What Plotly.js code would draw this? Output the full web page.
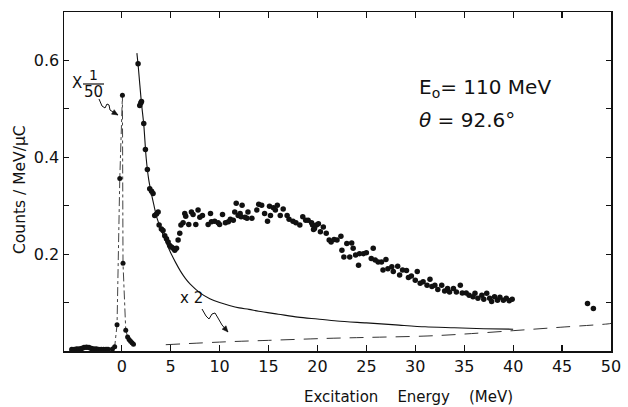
<!DOCTYPE html>
<html>
<head>
<meta charset="utf-8">
<script src="https://cdn.plot.ly/plotly-3.0.1.min.js"></script>
<style>html,body{margin:0;padding:0;background:#fff;}#chart{width:628px;height:407px;}</style>
</head>
<body>
<div id="chart"></div>
<script>
// ---- data ----
const footE = [-5.1, -4.85, -4.6, -4.35, -4.1, -3.85, -3.6, -3.35, -3.1, -2.85, -2.6, -2.35, -2.1, -1.85, -1.6, -1.4];
const footV = [0.003, 0.003, 0.004, 0.004, 0.005, 0.007, 0.008, 0.007, 0.005, 0.004, 0.004, 0.003, 0.003, 0.003, 0.003, 0.003];

const peakE = [-0.95, -0.72, -0.48, -0.2, 0.07, 0.13, 0.41, 0.6, 0.75, 0.9, 1.05, 1.2];
const peakV = [0.004, 0.009, 0.054, 0.356, 0.528, 0.181, 0.043, 0.029, 0.024, 0.02, 0.017, 0.014];

const mainE = [1.67, 1.84, 1.95, 2.02, 2.25, 2.42, 2.62, 2.86, 3.05, 3.2, 3.37, 3.55, 3.72, 3.82, 4.05, 4.22, 4.4, 4.57, 4.74, 4.9,
  5.08, 5.25, 5.42, 5.6, 5.76, 5.93, 6.05, 6.27, 6.44, 6.54, 6.85, 7.12, 7.29, 7.57, 7.8, 7.98, 8.25, 8.83, 9.07, 9.17,
  9.5, 9.85, 10.0, 10.3, 10.6, 10.9, 11.1, 11.4, 11.55, 11.7, 11.9, 12.1, 12.2, 12.3, 12.6, 12.8, 12.9, 13.3, 13.8, 14.0,
  14.3, 14.6, 14.9, 15.1, 15.2, 15.5, 15.7, 15.9, 16.2, 16.5, 16.9, 17.1, 17.5, 17.8, 18.2, 18.5, 18.8, 19.05, 19.4, 19.5,
  19.6, 19.7, 19.9, 20.1, 20.3, 20.6, 20.9, 21.2, 21.4, 21.7, 22.0, 22.4, 22.5, 22.7, 23.0, 23.3, 23.5, 23.65, 23.9, 24.2,
  24.3, 24.7, 25.0, 25.5, 25.7, 25.9, 26.2, 26.55, 26.7, 27.0, 27.2, 27.6, 27.75, 28.2, 28.4, 28.7, 29.1, 29.3, 29.6, 30.0,
  30.2, 30.5, 30.8, 31.2, 31.5, 31.7, 32.0, 32.3, 32.7, 33.0, 33.3, 33.5, 33.9, 34.2, 34.6, 34.8, 35.2, 35.5, 35.9, 36.1,
  36.4, 36.8, 37.0, 37.3, 37.6, 37.8, 38.1, 38.4, 38.65, 39.0, 39.3, 39.6, 39.9, 47.6, 48.2];
const mainV = [0.593, 0.507, 0.512, 0.515, 0.470, 0.416, 0.375, 0.335, 0.330, 0.325, 0.280, 0.283, 0.287, 0.260, 0.252, 0.249, 0.238, 0.232, 0.225, 0.218,
  0.215, 0.212, 0.208, 0.212, 0.229, 0.243, 0.260, 0.265, 0.284, 0.278, 0.261, 0.287, 0.282, 0.261, 0.291, 0.276, 0.280, 0.261, 0.284, 0.267,
  0.268, 0.265, 0.261, 0.282, 0.265, 0.267, 0.272, 0.270, 0.287, 0.305, 0.280, 0.284, 0.277, 0.301, 0.276, 0.274, 0.287, 0.274, 0.291, 0.303,
  0.301, 0.284, 0.268, 0.299, 0.280, 0.296, 0.291, 0.301, 0.280, 0.293, 0.280, 0.272, 0.268, 0.265, 0.260, 0.277, 0.270, 0.270, 0.265, 0.260,
  0.251, 0.253, 0.260, 0.263, 0.246, 0.256, 0.243, 0.229, 0.225, 0.230, 0.229, 0.237, 0.208, 0.194, 0.222, 0.194, 0.223, 0.212, 0.198, 0.177,
  0.201, 0.201, 0.203, 0.191, 0.212, 0.188, 0.184, 0.184, 0.167, 0.189, 0.170, 0.174, 0.164, 0.175, 0.157, 0.167, 0.166, 0.152, 0.155, 0.146,
  0.164, 0.140, 0.143, 0.136, 0.148, 0.133, 0.136, 0.127, 0.136, 0.124, 0.129, 0.122, 0.129, 0.122, 0.136, 0.120, 0.120, 0.115, 0.112, 0.119,
  0.109, 0.115, 0.107, 0.119, 0.109, 0.102, 0.112, 0.105, 0.111, 0.105, 0.109, 0.104, 0.107, 0.098, 0.088];

const tailE = [1.55, 1.7, 2.0, 2.25, 2.5, 2.75, 3.0, 3.3, 3.6, 4.0, 4.5, 5.0, 5.5, 6.0, 6.5, 7.0, 8.0, 9.0, 10.0, 11.0,
  12.0, 13.0, 14.0, 16.0, 18.0, 20.0, 22.0, 25.0, 28.0, 31.0, 34.0, 37.0, 40.0];
const tailV = [0.615, 0.585, 0.515, 0.468, 0.398, 0.355, 0.328, 0.300, 0.275, 0.252, 0.226, 0.203, 0.183, 0.165, 0.150, 0.138, 0.120, 0.108, 0.100, 0.094,
  0.089, 0.086, 0.082, 0.076, 0.070, 0.066, 0.062, 0.058, 0.054, 0.050, 0.048, 0.046, 0.045];

const dashE = [4.5, 10.7, 15.0, 20.9, 25.0, 31.2, 35.0, 40.0, 44.8, 49.7, 50.0];
const dashV = [0.013, 0.019, 0.022, 0.026, 0.028, 0.031, 0.035, 0.042, 0.049, 0.056, 0.057];

const xTicks = [0, 5, 10, 15, 20, 25, 30, 35, 40, 45, 50];
const xTickText = ['0', '5', '10', '15', '20', '25', '30', '35', '40', '45', '50'];
const yTicks = [0.2, 0.4, 0.6];
const yTickText = ['0.2', '0.4', '0.6'];

// ---- layout helpers for decorations ----
const M = {l: 64, r: 17, t: 12, b: 56};
const XR = [-5.9, 50], YR = [0, 0.7];
const W = 628, H = 407;
const pw = W - M.l - M.r, ph = H - M.t - M.b;
function dx(px) { return XR[0] + (px - M.l) / pw * (XR[1] - XR[0]); }
function dy(py) { return YR[0] + (M.t + ph - py) / ph * (YR[1] - YR[0]); }
function pathFrom(pts, close) {
  return pts.map((p, i) => (i ? 'L' : 'M') + dx(p[0]).toFixed(3) + ',' + dy(p[1]).toFixed(4)).join(' ') + (close ? ' Z' : '');
}
function head(tip, from) {
  const vx = tip[0] - from[0], vy = tip[1] - from[1];
  const n = Math.hypot(vx, vy), ux = vx / n, uy = vy / n;
  const bx = tip[0] - 6 * ux, by = tip[1] - 6 * uy;
  return pathFrom([tip, [bx - 2.6 * uy, by + 2.6 * ux], [bx + 2.6 * uy, by - 2.6 * ux]], true);
}

const FONT = 'DejaVu Sans, sans-serif';
const ink = '#111';

const traces = [
  {x: tailE, y: tailV, mode: 'lines', line: {color: ink, width: 1.1, shape: 'spline', smoothing: 0.8}, hoverinfo: 'skip'},
  {x: dashE, y: dashV, mode: 'lines', line: {color: '#333', width: 1, dash: '14px,9px', shape: 'spline'}, hoverinfo: 'skip'},
  {x: peakE, y: peakV, mode: 'lines+markers', line: {color: '#444', width: 1, dash: 'dashdot'},
   marker: {color: ink, size: 5}},
  {x: footE, y: footV, mode: 'markers', marker: {color: ink, size: 5.5}},
  {x: mainE, y: mainV, mode: 'markers', marker: {color: ink, size: 5.5}}
];

const axisCommon = {
  showgrid: false, zeroline: false, showline: true, linecolor: ink, linewidth: 1.5,
  ticks: 'inside', mirror: 'ticks', tickcolor: ink, tickwidth: 1.2,
  tickfont: {family: FONT, size: 16, color: ink}
};

const sq1 = [[99, 99], [102, 106], [105, 108], [107, 104], [109, 105], [110, 110], [113, 112], [118, 115]];
const sq2 = [[202, 309], [206, 316], [209, 319], [212, 314], [215, 313], [218, 318], [222, 325], [228, 332]];

const layout = {
  width: W, height: H,
  margin: M,
  paper_bgcolor: '#fff', plot_bgcolor: '#fff',
  showlegend: false,
  xaxis: Object.assign({}, axisCommon, {range: XR, tickmode: 'array', tickvals: xTicks, ticktext: xTickText, ticklen: 6}),
  yaxis: Object.assign({}, axisCommon, {range: YR, tickmode: 'array', tickvals: yTicks, ticktext: yTickText, ticklen: 5,
    minor: {tick0: 0, dtick: 0.1, ticks: 'inside', ticklen: 5, tickwidth: 1.2, tickcolor: ink, showgrid: false}}),
  annotations: [
    {xref: 'paper', yref: 'paper', x: (408 - M.l) / pw, y: (M.t + ph - 397) / ph, xanchor: 'center', yanchor: 'middle',
     text: 'Excitation\u00a0\u00a0\u00a0\u00a0Energy\u00a0\u00a0\u00a0\u00a0(MeV)', showarrow: false, font: {family: FONT, size: 15, color: ink}},
    {xref: 'paper', yref: 'paper', x: (20 - M.l) / pw, y: (M.t + ph - 190) / ph, xanchor: 'center', yanchor: 'middle', textangle: -90,
     text: 'Counts / MeV/\u03bcC', showarrow: false, font: {family: FONT, size: 15.5, color: ink}},
    {x: dx(417), y: dy(88), xanchor: 'left', yanchor: 'middle', showarrow: false,
     text: 'E<sub>o</sub>= 110 MeV', font: {family: FONT, size: 20, color: ink}},
    {x: dx(417), y: dy(120), xanchor: 'left', yanchor: 'middle', showarrow: false,
     text: '<i>\u03b8</i> = 92.6\u00b0', font: {family: FONT, size: 20, color: ink}},
    {x: dx(77), y: dy(83), xanchor: 'center', yanchor: 'middle', showarrow: false,
     text: 'X', font: {family: FONT, size: 15, color: ink}},
    {x: dx(93), y: dy(75), xanchor: 'center', yanchor: 'middle', showarrow: false,
     text: '1', font: {family: FONT, size: 14, color: ink}},
    {x: dx(93), y: dy(92), xanchor: 'center', yanchor: 'middle', showarrow: false,
     text: '50', font: {family: FONT, size: 15, color: ink}},
    {x: dx(191), y: dy(298), xanchor: 'center', yanchor: 'middle', showarrow: false,
     text: 'x 2', font: {family: FONT, size: 15, color: ink}}
  ],
  shapes: [
    {type: 'line', x0: dx(83), x1: dx(104), y0: dy(84), y1: dy(84), line: {color: ink, width: 1.2}},
    {type: 'path', path: pathFrom(sq1), line: {color: ink, width: 1}},
    {type: 'path', path: head(sq1[7], sq1[6]), fillcolor: ink, line: {color: ink, width: 0.5}},
    {type: 'path', path: pathFrom(sq2), line: {color: ink, width: 1}},
    {type: 'path', path: head(sq2[7], sq2[6]), fillcolor: ink, line: {color: ink, width: 0.5}}
  ]
};

Plotly.newPlot('chart', traces, layout, {displayModeBar: false, staticPlot: true});
</script>
</body>
</html>
